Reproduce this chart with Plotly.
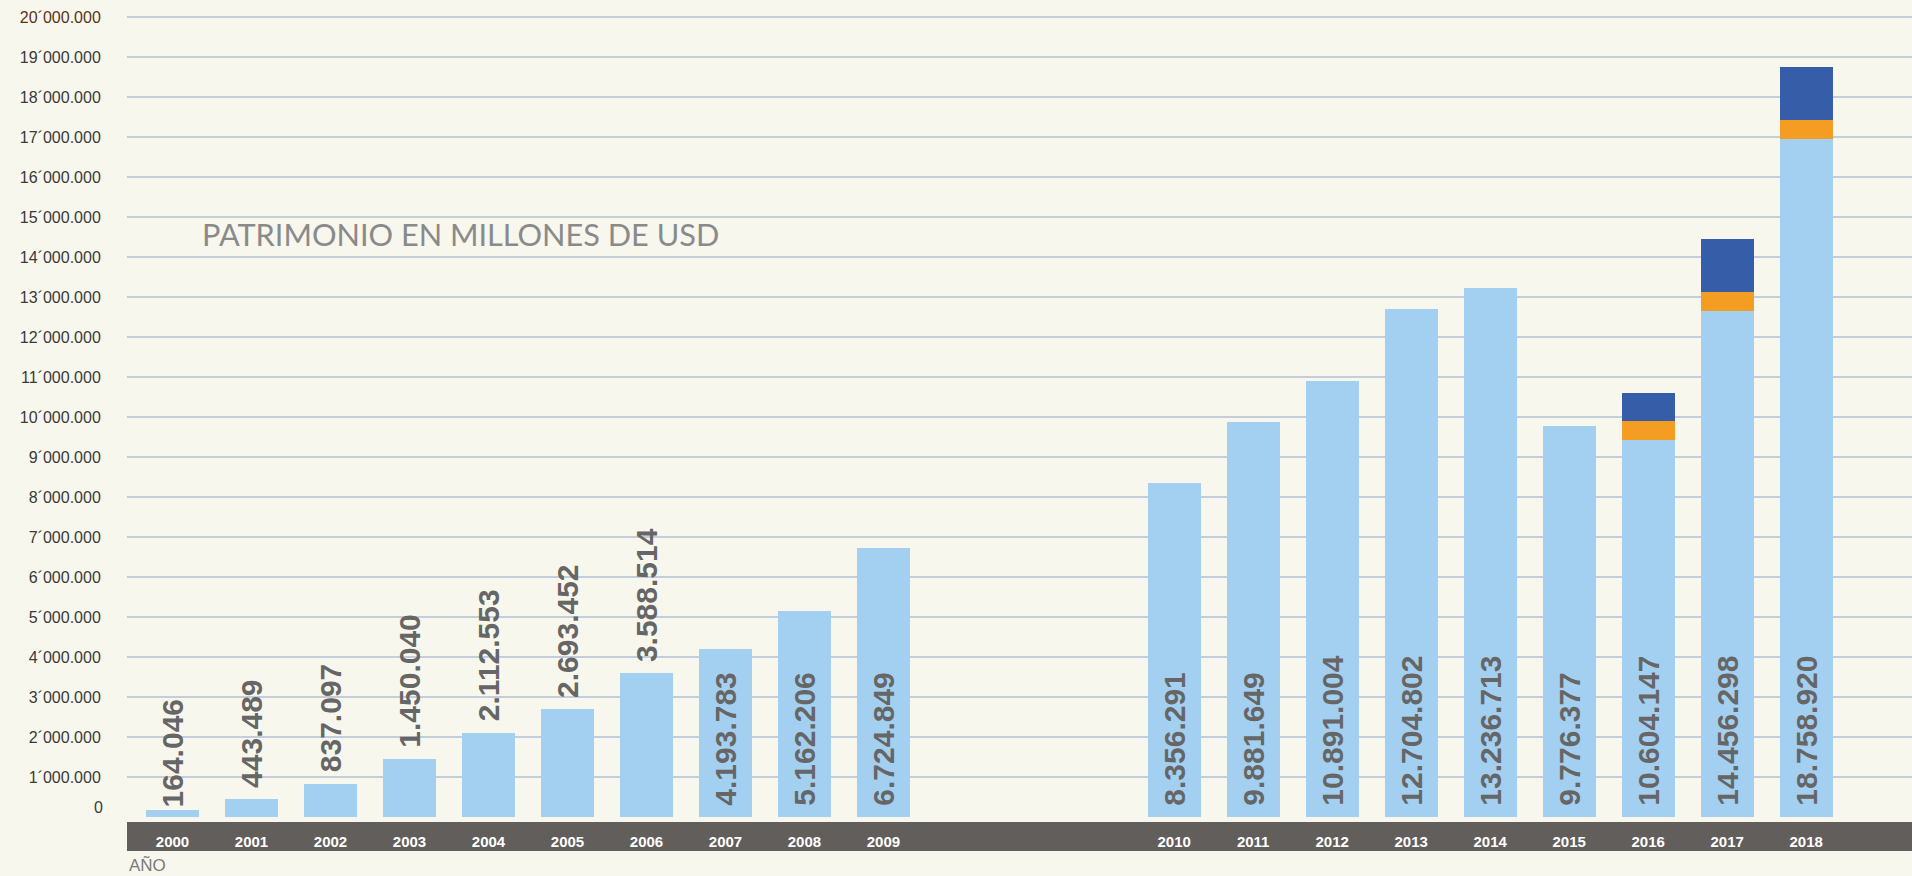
import plotly.graph_objects as go

# ---------------- data ----------------
years = ["2000", "2001", "2002", "2003", "2004", "2005", "2006", "2007", "2008", "2009",
         "2010", "2011", "2012", "2013", "2014", "2015", "2016", "2017", "2018"]
value_labels = ["164.046", "443.489", "837.097", "1.450.040", "2.112.553", "2.693.452",
                "3.588.514", "4.193.783", "5.162.206", "6.724.849", "8.356.291",
                "9.881.649", "10.891.004", "12.704.802", "13.236.713", "9.776.377",
                "10.604.147", "14.456.298", "18.758.920"]
# light-blue (main) segment
main_values = [164046, 443489, 837097, 1450040, 2112553, 2693452, 3588514, 4193783,
               5162206, 6724849, 8356291, 9881649, 10891004, 12704802, 13236713,
               9776377, 9430000, 12660000, 16940000]
stack_years = ["2016", "2017", "2018"]
orange_values = [480000, 470000, 485000]
dark_values = [694147, 1326298, 1333920]

y_tick_values = [i * 1000000 for i in range(1, 21)]
y_tick_labels = [f"{i}´000.000" for i in range(1, 21)]

# ---------------- layout constants ----------------
GAP = 2.68          # extra empty space between 2009 and 2010
BAR_W = 0.67
BG = "#f8f7ed"
LIGHT = "#a3cff0"
ORANGE = "#f39d23"
DARK = "#365ea8"
BAND = "#625e5c"
LABEL_GRAY = "#666666"

def xpos(i):
    return i if i < 10 else i + GAP

x_all = [xpos(i) for i in range(len(years))]
x_stack = [xpos(years.index(y)) for y in stack_years]

n_outside = 7
text_pos = ["outside"] * n_outside + ["inside"] * (len(years) - n_outside)
texts = [("" if i == 0 else "\u00a0") + t for i, t in enumerate(value_labels)]

ticktext_y = list(y_tick_labels)
ticktext_y[-1] = f"<span style='color:#5a3219'>{y_tick_labels[-1]}</span>"

label_font = dict(family="Liberation Sans", size=30, color=LABEL_GRAY, weight="bold")

fig = go.Figure()
fig.add_trace(go.Bar(
    x=x_all, y=main_values, width=BAR_W, marker_color=LIGHT, marker_line_width=0,
    text=texts, textposition=text_pos, textangle=-90, insidetextanchor="start",
    constraintext="none", cliponaxis=False,
    textfont=label_font, insidetextfont=label_font, outsidetextfont=label_font,
    showlegend=False, hoverinfo="skip"))
fig.add_trace(go.Bar(
    x=x_stack, y=orange_values, width=BAR_W, marker_color=ORANGE, marker_line_width=0,
    showlegend=False, hoverinfo="skip"))
fig.add_trace(go.Bar(
    x=x_stack, y=dark_values, width=BAR_W, marker_color=DARK, marker_line_width=0,
    showlegend=False, hoverinfo="skip"))

W, H = 1912, 876
L, R, T, B = 127, 0, 5, 54
plot_h = H - T - B

fig.update_layout(
    width=W, height=H, barmode="stack",
    margin=dict(l=L, r=R, t=T, b=B),
    paper_bgcolor=BG, plot_bgcolor=BG,
    font=dict(family="Liberation Sans", color="#3a3a3a"),
    xaxis=dict(range=[-0.576, 22.02], tickvals=x_all, ticktext=years,
               showgrid=False, zeroline=False, showline=False,
               ticks="outside", ticklen=6, tickcolor="rgba(0,0,0,0)",
               tickfont=dict(family="Liberation Sans", size=15, color="white", weight="bold")),
    yaxis=dict(range=[-125000, 20300000], tickvals=y_tick_values, ticktext=ticktext_y,
               showgrid=True, gridcolor="#c4cddb", gridwidth=2,
               zeroline=False, showline=False,
               ticks="outside", ticklen=22, tickcolor="rgba(0,0,0,0)",
               tickfont=dict(family="Liberation Sans", size=16, color="#3a3a3a")),
    shapes=[dict(type="rect", xref="paper", yref="paper", x0=0, x1=1,
                 y0=-(851 - 822) / plot_h, y1=0, fillcolor=BAND, line_width=0,
                 layer="below")],
    annotations=[
        dict(text="PATRIMONIO EN MILLONES DE USD", xref="paper", yref="paper",
             x=(200 - L) / (W - L - R), y=(822 - 234) / plot_h,
             xanchor="left", yanchor="middle", showarrow=False,
             font=dict(family="Lato", size=30.7, color="#8a8a8a")),
        dict(text="AÑO", xref="paper", yref="paper", x=0, y=(822 - 865) / plot_h,
             xanchor="left", yanchor="middle", showarrow=False,
             font=dict(family="Liberation Sans", size=17, color="#7a7a7a")),
        dict(text="0", xref="paper", yref="y", x=0, y=0, xanchor="right",
             yanchor="middle", xshift=-22, yshift=10, showarrow=False,
             font=dict(family="Liberation Sans", size=16, color="#3a3a3a")),
    ],
)

fig.write_html("out.html")
